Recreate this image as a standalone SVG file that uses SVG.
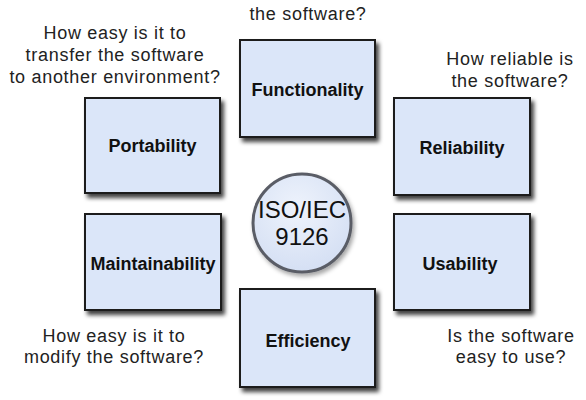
<svg xmlns="http://www.w3.org/2000/svg" width="586" height="400" viewBox="0 0 586 400">
  <defs>
    <filter id="shadow" x="-20%" y="-20%" width="150%" height="150%">
      <feDropShadow dx="3" dy="4" stdDeviation="2" flood-color="#000" flood-opacity="0.75"/>
    </filter>
    <filter id="softShadow" x="-20%" y="-20%" width="150%" height="150%">
      <feDropShadow dx="2" dy="3" stdDeviation="2" flood-color="#000" flood-opacity="0.35"/>
    </filter>
    <radialGradient id="discFill" cx="0.45" cy="0.35" r="0.7">
      <stop offset="0" stop-color="#eef3fc"/>
      <stop offset="1" stop-color="#d3def3"/>
    </radialGradient>
  </defs>
  <style>
    .box { fill: #dbe6f9; stroke: #1c1c1c; stroke-width: 2; filter: url(#shadow); }
    .label { font-family: "Liberation Sans", Arial, sans-serif; font-size: 18px; font-weight: bold; fill: #111; text-anchor: middle; }
    .note { font-family: "Liberation Sans", Arial, sans-serif; font-size: 18px; letter-spacing: 0.7px; fill: #222; text-anchor: middle; }
    .hub { font-family: "Liberation Sans", Arial, sans-serif; font-size: 24px; fill: #111; text-anchor: middle; }
  </style>
  <rect width="586" height="400" fill="#fff"/>

  <!-- questions -->
  <g id="questions">
    <text class="note" x="308" y="20">the software?</text>
    <text class="note" x="115" y="39">How easy is it to</text>
    <text class="note" x="115" y="61">transfer the software</text>
    <text class="note" x="115" y="83">to another environment?</text>
    <text class="note" x="510" y="65">How reliable is</text>
    <text class="note" x="510" y="87">the software?</text>
    <text class="note" x="114" y="342">How easy is it to</text>
    <text class="note" x="114" y="363">modify the software?</text>
    <text class="note" x="511" y="342">Is the software</text>
    <text class="note" x="511" y="363">easy to use?</text>
  </g>

  <!-- connectors: none drawn between the nodes -->
  <g id="connectors"/>

  <g id="functionality">
    <rect class="box" x="240" y="40" width="135" height="97"/>
    <text class="label" x="307.5" y="96">Functionality</text>
  </g>
  <g id="portability">
    <rect class="box" x="85" y="98" width="135" height="95"/>
    <text class="label" x="152.5" y="152">Portability</text>
  </g>
  <g id="reliability">
    <rect class="box" x="394" y="98" width="136" height="97"/>
    <text class="label" x="462" y="154">Reliability</text>
  </g>
  <g id="maintainability">
    <rect class="box" x="85" y="214" width="136" height="96"/>
    <text class="label" x="153" y="270">Maintainability</text>
  </g>
  <g id="usability">
    <rect class="box" x="394" y="214" width="136" height="96"/>
    <text class="label" x="460" y="270">Usability</text>
  </g>
  <g id="efficiency">
    <rect class="box" x="240" y="289" width="135" height="98"/>
    <text class="label" x="308" y="347">Efficiency</text>
  </g>

  <g id="iso-iec-9126">
    <circle cx="302" cy="223" r="49" fill="url(#discFill)" stroke="#5a5d66" stroke-width="3" filter="url(#softShadow)"/>
    <text class="hub" x="302" y="218">ISO/IEC</text>
    <text class="hub" x="302" y="245">9126</text>
  </g>
</svg>
